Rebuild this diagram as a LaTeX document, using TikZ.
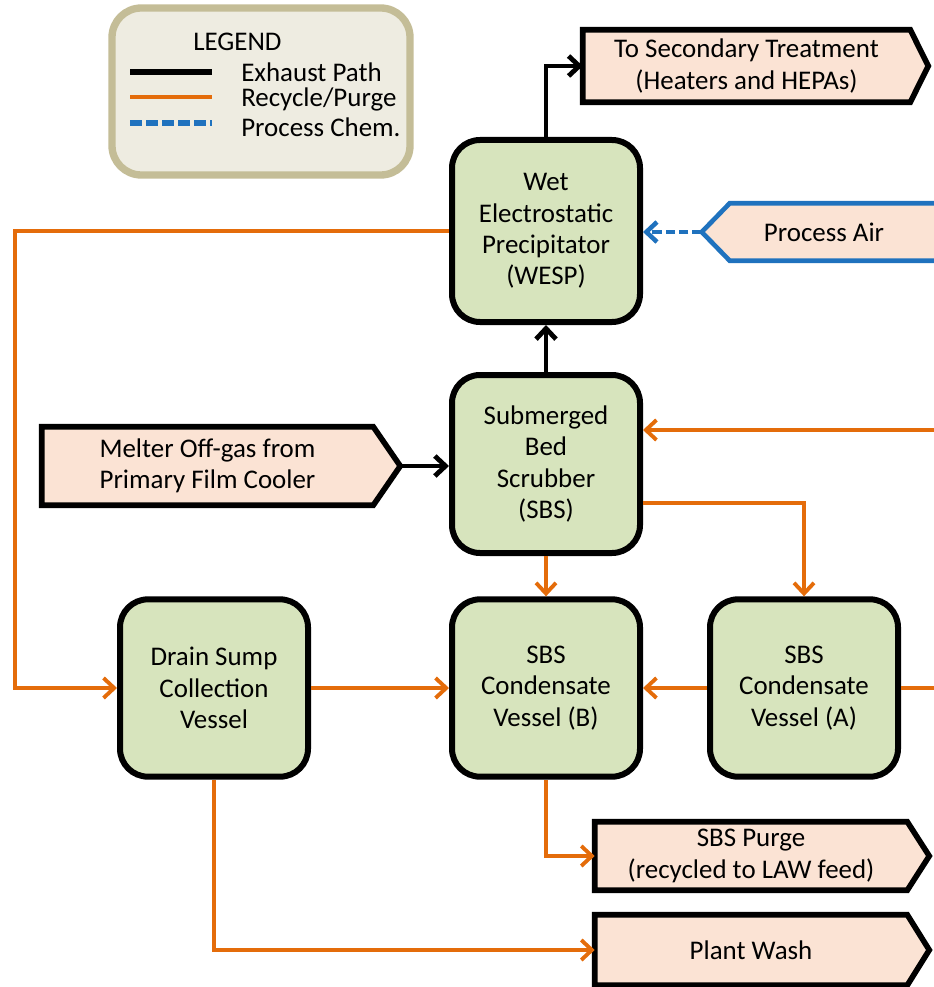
\documentclass[tikz,border=0pt]{standalone}
\usepackage{fontspec}
\setmainfont{Carlito}
\usetikzlibrary{arrows.meta,calc,backgrounds}
\definecolor{boxgreen}{HTML}{D7E4BD}
\definecolor{peach}{HTML}{FBE3D4}
\definecolor{flowor}{HTML}{E46C0A}
\definecolor{chemblue}{HTML}{1F72BE}
\definecolor{legfill}{HTML}{EEECE1}
\definecolor{legedge}{HTML}{C4BD97}

\begin{document}
\begin{tikzpicture}[x=0.75pt,y=-0.75pt,
  every node/.style={font=\fontsize{20.2}{23.5}\selectfont, align=center, inner sep=0pt},
  unit/.style={draw=black, line width=4.5pt, fill=boxgreen, rounded corners=21pt,
    minimum width=141pt, minimum height=135pt},
  port/.style={minimum width=#1},
  outlet/.style={draw=black, line width=4.2pt, fill=peach, line join=miter},
  inlet/.style={draw=chemblue, line width=3.5pt, fill=peach, line join=miter},
  legendbox/.style={draw=legedge, line width=5.5pt, fill=legfill, rounded corners=22pt,
    minimum width=223.5pt, minimum height=125.25pt},
  barb/.style={-{Straight Barb[length=8pt,width=15pt]}},
  exhaust/.style={draw=black, line width=3.6pt, barb},
  recycle/.style={draw=flowor, line width=2.9pt, barb},
  recycleline/.style={draw=flowor, line width=2.9pt},
  chem/.style={draw=chemblue, line width=3.4pt, dash pattern=on 7pt off 3pt, barb},
  legtext/.style={anchor=west}
]
\useasboundingbox (0,0) rectangle (933,987);

% ---------- legend ----------
\node[legendbox] (legend) at (261,91.5) {};
\node[anchor=west] (legtitle) at (193,42) {LEGEND};
\coordinate (la1) at (130,72);  \coordinate (lb1) at (212,72);
\coordinate (la2) at (130,97);  \coordinate (lb2) at (212,97);
\coordinate (la3) at (130,123); \coordinate (lb3) at (212,123);
\draw[black, line width=4.2pt] (la1) -- (lb1);
\draw[flowor, line width=3.6pt] (la2) -- (lb2);
\draw[chemblue, line width=4pt, dash pattern=on 9pt off 3pt] (la3) -- (lb3);
\node[legtext] (legexh) at (241,72) {Exhaust Path};
\node[legtext] (legrec) at (241,99) {Recycle/Purge};
\node[legtext] (legchem) at (241,127) {Process Chem.};

% ---------- process units ----------
\node[unit, minimum height=136.5pt] (wesp) at (546,231)
  {Wet\\Electrostatic\\Precipitator\\(WESP)};
\node[unit, minimum height=133.5pt] (sbs) at (546,464)
  {Submerged\\Bed\\Scrubber\\(SBS)};
\node[unit, minimum height=133pt] (drain) at (214,688)
  {Drain Sump\\Collection\\Vessel};
\node[unit, minimum height=133pt] (condb) at (546,688)
  {SBS\\Condensate\\Vessel (B)};
\node[unit, minimum height=133pt] (conda) at (804,688)
  {SBS\\Condensate\\Vessel (A)};

% ---------- streams in and out ----------
\node[port=245.25pt, minimum height=54pt] (sec) at (746.5,66)
  {To Secondary Treatment\\(Heaters and HEPAs)};
\node[port=248.25pt, minimum height=58.5pt] (melt) at (207.5,466)
  {Melter Off-gas from\\Primary Film Cooler};
\node[port=141pt, minimum height=42.75pt] (pa) at (824,232) {Process Air};
\node[port=234pt, minimum height=51pt] (purge) at (751,856)
  {SBS Purge\\(recycled to LAW feed)};
\node[port=234pt, minimum height=52.5pt] (wash) at (751,950) {Plant Wash};

\coordinate (sectip) at ($(sec.east)+(18,0)$);
\coordinate (melttip) at ($(melt.east)+(27,0)$);
\coordinate (purgetip) at ($(purge.east)+(22,0)$);
\coordinate (washtip) at ($(wash.east)+(22,0)$);
\coordinate (patip) at ($(pa.west)+(-28,0)$);

\begin{pgfonlayer}{background}
  \draw[outlet] (sec.north west) -- (sec.north east) -- (sectip) -- (sec.south east) -- (sec.south west) -- cycle;
  \draw[outlet] (melt.north west) -- (melt.north east) -- (melttip) -- (melt.south east) -- (melt.south west) -- cycle;
  \draw[outlet] (purge.north west) -- (purge.north east) -- (purgetip) -- (purge.south east) -- (purge.south west) -- cycle;
  \draw[outlet] (wash.north west) -- (wash.north east) -- (washtip) -- (wash.south east) -- (wash.south west) -- cycle;
  \draw[inlet] (patip) -- (pa.north west) -- ($(pa.north east)+(30,0)$) -- ($(pa.south east)+(30,0)$) -- (pa.south west) -- cycle;
\end{pgfonlayer}

% ---------- exhaust path ----------
\draw[exhaust] (wesp.north) |- (sec.west);
\draw[exhaust] (sbs.north) -- (wesp.south);
\draw[exhaust] (melttip) -- (melttip -| sbs.west);

% ---------- process chemicals ----------
\draw[chem] (patip) -- (patip -| wesp.east);

% ---------- recycle / purge ----------
\coordinate (leftrun) at (15,231);
\coordinate (edgelow) at (935,688);
\coordinate (edgehigh) at (935,430);
\draw[recycle] (wesp.west) -- (leftrun) |- (drain.west);
\draw[recycle] (edgehigh) -- (edgehigh -| sbs.east);
\draw[recycle] ($(sbs.east)+(0,39)$) -| (conda.north);
\draw[recycle] (sbs.south) -- (condb.north);
\draw[recycle] (drain.east) -- (condb.west);
\draw[recycle] (conda.west) -- (condb.east);
\draw[recycleline] (conda.east) -- (edgelow);
\draw[recycle] (condb.south) |- (purge.west);
\draw[recycle] (drain.south) |- (wash.west);
\end{tikzpicture}
\end{document}
